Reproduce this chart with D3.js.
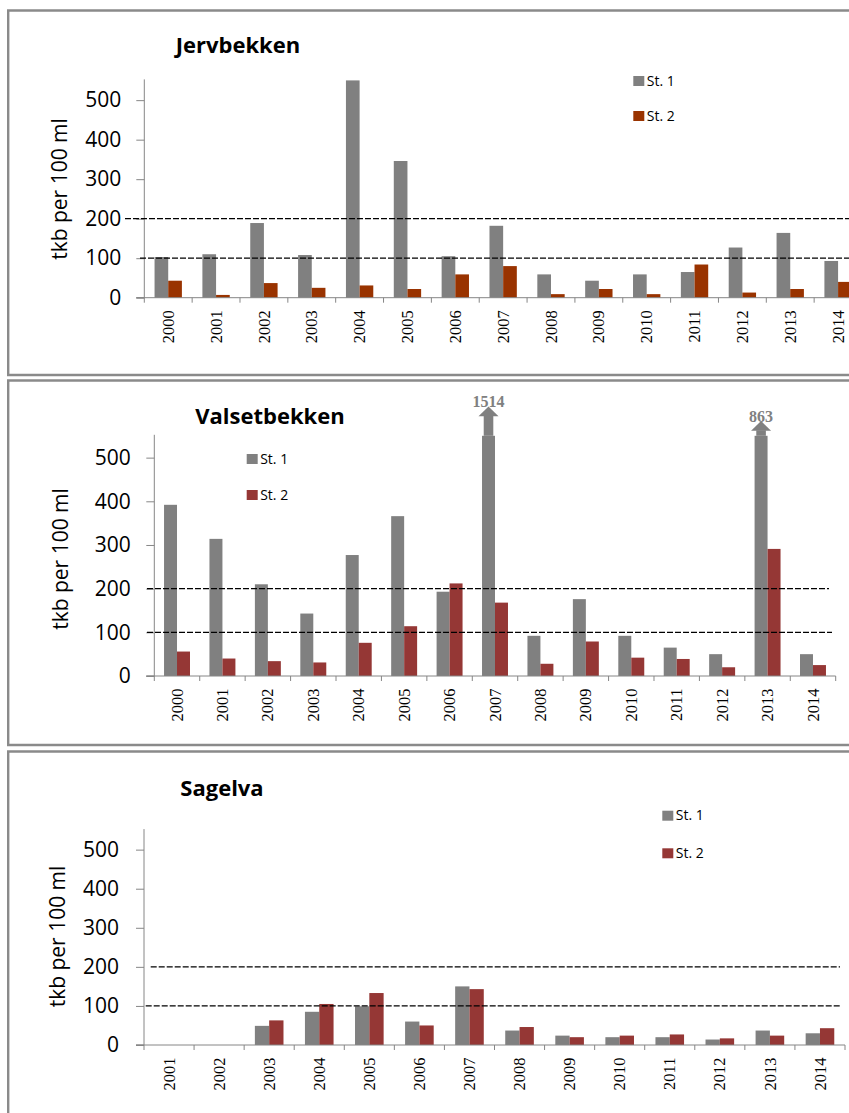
<!DOCTYPE html>
<html>
<head>
<meta charset="utf-8">
<script src="https://cdn.jsdelivr.net/npm/d3@7"></script>
<style>
  html, body { margin: 0; padding: 0; background: #fff; }
  svg { display: block; }
</style>
</head>
<body>
<script>
// ---- data ----
const seriesNames = ['St. 1', 'St. 2'];
const yTicks = [0, 100, 200, 300, 400, 500];
const yMax = 550;
const limitLines = [200, 100];

const jervYears = ['2000','2001','2002','2003','2004','2005','2006','2007','2008','2009','2010','2011','2012','2013','2014'];
const jervSt1 = [103, 110, 189, 108, 550, 346, 105, 182, 59, 43, 59, 65, 127, 164, 93];
const jervSt2 = [43, 7, 37, 25, 31, 22, 59, 80, 9, 22, 9, 84, 13, 22, 40];

const valsYears = ['2000','2001','2002','2003','2004','2005','2006','2007','2008','2009','2010','2011','2012','2013','2014'];
const valsSt1 = [392, 314, 210, 143, 277, 366, 193, 1514, 92, 176, 92, 65, 50, 863, 50];
const valsSt2 = [56, 40, 34, 31, 76, 114, 212, 168, 28, 79, 42, 39, 20, 291, 25];

const sagYears = ['2001','2002','2003','2004','2005','2006','2007','2008','2009','2010','2011','2012','2013','2014'];
const sagSt1 = [null, null, 49, 85, 99, 60, 150, 37, 24, 20, 20, 14, 37, 30];
const sagSt2 = [null, null, 63, 105, 133, 50, 143, 46, 20, 24, 27, 17, 24, 43];

// ---- styling / layout ----
const GREY = '#808080';
const AXIS = '#868686';
const SANS = '"Open Sans", "Noto Sans", sans-serif';
const SERIF = '"Liberation Serif", "Times New Roman", serif';

const panels = [
  {
    title: 'Jervbekken', years: jervYears, st1: jervSt1, st2: jervSt2, color2: '#993300',
    frame: { top: 10.5, bottom: 375 },
    x0: 144.3, x1: 862, zero: 297.7, top: 80.4, tickPad: 15,
    titlePos: [238, 53.3], ylabPos: [66.5, 189],
    legend: [633.3, 76, 35],
    limitExtent: { 200: [125, 870], 100: [140, 870] },
    arrows: {}
  },
  {
    title: 'Valsetbekken', years: valsYears, st1: valsSt1, st2: valsSt2, color2: '#953735',
    frame: { top: 380.5, bottom: 745 },
    x0: 154.3, x1: 835.7, zero: 676, top: 435.8, tickPad: 15.6,
    titlePos: [270, 424], ylabPos: [68.3, 559],
    legend: [246.7, 454, 36],
    limitExtent: { 200: [147, 829], 100: [147, 832] },
    arrows: { '2007': 19.5, '2013': 5 }
  },
  {
    title: 'Sagelva', years: sagYears, st1: sagSt1, st2: sagSt2, color2: '#953735',
    frame: { top: 751.5, bottom: 1130 },
    x0: 144, x1: 845, zero: 1045, top: 830.1, tickPad: 17,
    titlePos: [222, 795.7], ylabPos: [65, 936.5],
    legend: [662.3, 810.7, 37.6],
    limitExtent: { 200: [150.7, 840], 100: [145.7, 840] },
    arrows: {}
  }
];

const svg = d3.select('body').append('svg')
  .attr('width', 849).attr('height', 1113);

panels.forEach(p => {
  const g = svg.append('g');

  // frame (open to the right)
  g.append('path')
    .attr('d', `M900,${p.frame.top}H8.2V${p.frame.bottom}H900`)
    .attr('fill', 'none').attr('stroke', '#8a8a8a').attr('stroke-width', 2.4);

  const x = d3.scaleBand().domain(p.years).range([p.x0, p.x1]).paddingInner(0).paddingOuter(0);
  const y = d3.scaleLinear().domain([0, yMax]).range([p.zero, p.top]);
  const bw = x.bandwidth();
  const barW = bw / 3.5;           // gap width 150 %
  const off = (bw - 2 * barW) / 2;

  // title
  g.append('text')
    .attr('x', p.titlePos[0]).attr('y', p.titlePos[1])
    .attr('text-anchor', 'middle')
    .style('font-family', SANS).style('font-weight', 700).style('font-size', '22px')
    .text(p.title);

  // y axis
  const yAxis = d3.axisLeft(y).tickValues(yTicks).tickSize(8).tickPadding(p.tickPad).tickFormat(d3.format('d'));
  const ya = g.append('g').attr('transform', `translate(${p.x0},0)`).call(yAxis);
  ya.select('.domain').attr('stroke', AXIS).attr('d', `M-8,${p.zero}H0V${p.top - 1}`);
  ya.selectAll('.tick line').attr('stroke', AXIS);
  ya.selectAll('.tick text')
    .style('font-family', SANS).style('font-size', '21px').attr('fill', '#000');

  // y label
  g.append('text')
    .attr('transform', `translate(${p.ylabPos[0]},${p.ylabPos[1]}) rotate(-90)`)
    .attr('text-anchor', 'middle')
    .style('font-family', SANS).style('font-size', '21px')
    .text('tkb per 100 ml');

  // bars
  const rows = p.years.map((yr, i) => ({ yr, v1: p.st1[i], v2: p.st2[i] }));
  const barG = g.append('g');
  [['v1', GREY, 0], ['v2', p.color2, 1]].forEach(([key, color, k]) => {
    barG.selectAll(null)
      .data(rows.filter(r => r[key] != null))
      .join('rect')
      .attr('x', r => x(r.yr) + off + k * barW)
      .attr('width', barW)
      .attr('y', r => y(Math.min(r[key], yMax)))
      .attr('height', r => y(0) - y(Math.min(r[key], yMax)))
      .attr('fill', color);
  });

  // arrows for St. 1 values above the axis maximum
  rows.filter(r => r.v1 != null && r.v1 > yMax).forEach(r => {
    const cx = x(r.yr) + off + barW / 2;
    const shaft = p.arrows[r.yr] != null ? p.arrows[r.yr] : 10;
    const yb = y(yMax);
    const headBase = yb - shaft;
    const tip = headBase - 9.8;
    g.append('rect')
      .attr('x', cx - 4.8).attr('width', 9.6)
      .attr('y', headBase - 0.5).attr('height', shaft + 0.5)
      .attr('fill', GREY);
    g.append('path')
      .attr('d', `M${cx - 10},${headBase}L${cx},${tip}L${cx + 10},${headBase}Z`)
      .attr('fill', GREY);
    g.append('text')
      .attr('x', cx).attr('y', tip + 0.8)
      .attr('text-anchor', 'middle')
      .style('font-family', SERIF).style('font-weight', 700).style('font-size', '16px')
      .attr('fill', GREY)
      .text(d3.format('d')(r.v1));
  });

  // x axis: line, boundary ticks, rotated year labels
  g.append('line')
    .attr('x1', p.x0 - 8).attr('x2', p.x1).attr('y1', p.zero).attr('y2', p.zero)
    .attr('stroke', AXIS).attr('stroke-width', 1);
  const bounds = p.years.map(yr => x(yr)).concat([p.x1]);
  g.selectAll(null).data(bounds).join('line')
    .attr('x1', d => d).attr('x2', d => d)
    .attr('y1', p.zero).attr('y2', p.zero + 5)
    .attr('stroke', AXIS);
  g.selectAll(null).data(p.years).join('text')
    .attr('transform', d => `translate(${x(d) + bw / 2},${p.zero + 12.5}) rotate(-90)`)
    .attr('text-anchor', 'end')
    .attr('dy', '0.34em')
    .style('font-family', SERIF).style('font-size', '16.5px')
    .text(d => d);

  // limit lines
  limitLines.forEach(v => {
    const ext = p.limitExtent[v];
    g.append('line')
      .attr('x1', ext[0]).attr('x2', ext[1])
      .attr('y1', y(v)).attr('y2', y(v))
      .attr('stroke', '#000').attr('stroke-width', 1.3)
      .attr('stroke-dasharray', '6,2');
  });

  // legend
  const [lx, ly, step] = p.legend;
  seriesNames.forEach((name, i) => {
    const yy = ly + i * step;
    g.append('rect')
      .attr('x', lx).attr('y', yy).attr('width', 11).attr('height', 10)
      .attr('fill', i === 0 ? GREY : p.color2);
    g.append('text')
      .attr('x', lx + 13.5).attr('y', yy + 9.6)
      .style('font-family', SANS).style('font-size', '14px')
      .text(name);
  });
});
</script>
</body>
</html>
